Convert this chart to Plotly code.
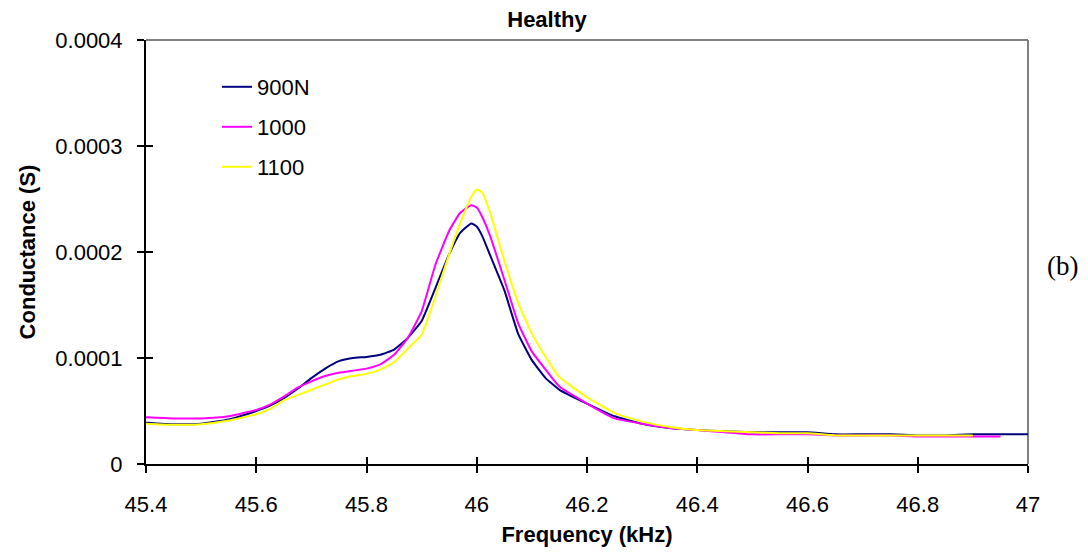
import plotly.graph_objects as go

freq = [45.4, 45.45, 45.5, 45.55, 45.6, 45.625, 45.65, 45.675, 45.7, 45.725, 45.75, 45.775,
        45.8, 45.825, 45.85, 45.875, 45.9, 45.925, 45.95, 45.97, 45.99, 46.0, 46.01, 46.025,
        46.05, 46.075, 46.1, 46.125, 46.15, 46.2, 46.25, 46.3, 46.35, 46.4, 46.45, 46.5,
        46.55, 46.6, 46.65, 46.7, 46.75, 46.8, 46.85, 46.9, 46.95, 47.0]

# conductance in units of 1e-4 S
g900 = [0.39, 0.375, 0.38, 0.42, 0.50, 0.55, 0.62, 0.71, 0.81, 0.90, 0.97, 1.00,
        1.01, 1.03, 1.08, 1.19, 1.35, 1.66, 1.98, 2.18, 2.27, 2.24, 2.15, 1.96,
        1.64, 1.23, 0.98, 0.81, 0.70, 0.57, 0.45, 0.38, 0.34, 0.32, 0.31, 0.30,
        0.30, 0.30, 0.28, 0.28, 0.28, 0.27, 0.27, 0.28, 0.28, 0.28]
g1000 = [0.44, 0.43, 0.43, 0.45, 0.51, 0.56, 0.635, 0.72, 0.78, 0.83, 0.86, 0.88,
         0.90, 0.94, 1.03, 1.19, 1.44, 1.88, 2.20, 2.37, 2.44, 2.42, 2.33, 2.14,
         1.74, 1.33, 1.06, 0.89, 0.73, 0.57, 0.43, 0.38, 0.34, 0.32, 0.30, 0.28,
         0.28, 0.28, 0.27, 0.27, 0.27, 0.26, 0.26, 0.26, 0.26, None]
g1100 = [0.38, 0.37, 0.375, 0.41, 0.47, 0.52, 0.60, 0.65, 0.70, 0.75, 0.80, 0.83,
         0.85, 0.89, 0.96, 1.09, 1.22, 1.58, 1.98, 2.27, 2.52, 2.59, 2.56, 2.36,
         1.92, 1.52, 1.23, 1.01, 0.82, 0.63, 0.48, 0.40, 0.35, 0.32, 0.31, 0.30,
         0.29, 0.29, 0.27, 0.27, 0.27, 0.27, 0.27, 0.27, None, None]

series_names = ["900N", "1000", "1100"]
series_colors = ["#000080", "#FF00FF", "#FFFF00"]
series_vals = [g900, g1000, g1100]

x_ticks = [45.4, 45.6, 45.8, 46.0, 46.2, 46.4, 46.6, 46.8, 47.0]
x_ticktext = ["45.4", "45.6", "45.8", "46", "46.2", "46.4", "46.6", "46.8", "47"]
y_ticks = [0, 0.0001, 0.0002, 0.0003, 0.0004]
y_ticktext = ["0", "0.0001", "0.0002", "0.0003", "0.0004"]

FONT = "Liberation Sans, Arial, sans-serif"
FS = 22

fig = go.Figure()
legend_names = ["legend", "legend2", "legend3"]
for name, col, vals, lg in zip(series_names, series_colors, series_vals, legend_names):
    fig.add_trace(go.Scatter(
        x=freq, y=[v * 1e-4 if v is not None else None for v in vals],
        mode="lines", name=name, line=dict(color=col, width=2, shape="spline", smoothing=0.4),
        legend=lg, connectgaps=False,
    ))

L, R, T, B = 146, 60, 40, 91
W, H = 1088, 555
pw, ph = W - L - R, H - T - B


def leg(ypx):
    return dict(x=(217 - L) / pw, y=1 - (ypx - T) / ph, xanchor="left", yanchor="middle",
                bgcolor="rgba(0,0,0,0)", font=dict(family=FONT, size=FS, color="black"),
                itemwidth=30)


fig.update_layout(
    width=W, height=H,
    margin=dict(l=L, r=R, t=T, b=B),
    paper_bgcolor="white", plot_bgcolor="white",
    showlegend=True,
    legend=leg(87), legend2=leg(127), legend3=leg(167),
    title=dict(text="<b>Healthy</b>", x=547 / W, xanchor="center",
               y=1 - 19 / H, yanchor="middle", yref="container", xref="container",
               font=dict(family=FONT, size=22, color="black")),
    font=dict(family=FONT, size=FS, color="black"),
)

fig.update_xaxes(
    range=[45.4, 47.0], tickvals=x_ticks, ticktext=x_ticktext,
    showgrid=False, zeroline=False, showline=True, linecolor="black", linewidth=2,
    ticks="outside", ticklen=7, tickwidth=2, tickcolor="black",
    ticklabelstandoff=13,
    tickfont=dict(family=FONT, size=FS, color="black"),
    title=dict(text="<b>Frequency (kHz)</b>", font=dict(family=FONT, size=FS, color="black"),
               standoff=10),
)
fig.update_yaxes(
    range=[0, 0.0004], tickvals=y_ticks, ticktext=y_ticktext,
    showgrid=False, zeroline=False, showline=True, linecolor="black", linewidth=2,
    ticks="outside", ticklen=7, tickwidth=2, tickcolor="black",
    ticklabelstandoff=10,
    tickfont=dict(family=FONT, size=FS, color="black"),
    title=dict(text="<b>Conductance (S)</b>", font=dict(family=FONT, size=FS, color="black"),
               standoff=14),
)

# inner halves of the crossing ticks via overlay axes
fig.update_layout(
    xaxis2=dict(overlaying="x", matches="x", range=[45.4, 47.0], tickvals=x_ticks,
                showticklabels=False, ticks="inside", ticklen=7, tickwidth=2, tickcolor="black",
                showgrid=False, zeroline=False, showline=False, side="bottom"),
    yaxis2=dict(overlaying="y", matches="y", range=[0, 0.0004], tickvals=y_ticks,
                showticklabels=False, ticks="inside", ticklen=7, tickwidth=2, tickcolor="black",
                showgrid=False, zeroline=False, showline=False, side="left"),
)
fig.add_trace(go.Scatter(x=[None], y=[None], xaxis="x2", yaxis="y2", showlegend=False,
                         hoverinfo="skip"))

# gray plot-area border on top and right
fig.add_shape(type="line", xref="paper", yref="paper", x0=0, x1=1, y0=1, y1=1,
              line=dict(color="#808080", width=2), layer="below")
fig.add_shape(type="line", xref="paper", yref="paper", x0=1, x1=1, y0=0, y1=1,
              line=dict(color="#808080", width=2), layer="below")

fig.add_annotation(text="(b)", xref="paper", yref="paper",
                   x=(1062 - L) / pw, y=1 - (266 - T) / ph, showarrow=False,
                   xanchor="center", yanchor="middle",
                   font=dict(family="Liberation Serif, Times New Roman, serif", size=27,
                             color="black"))

fig.write_html("out.html")
